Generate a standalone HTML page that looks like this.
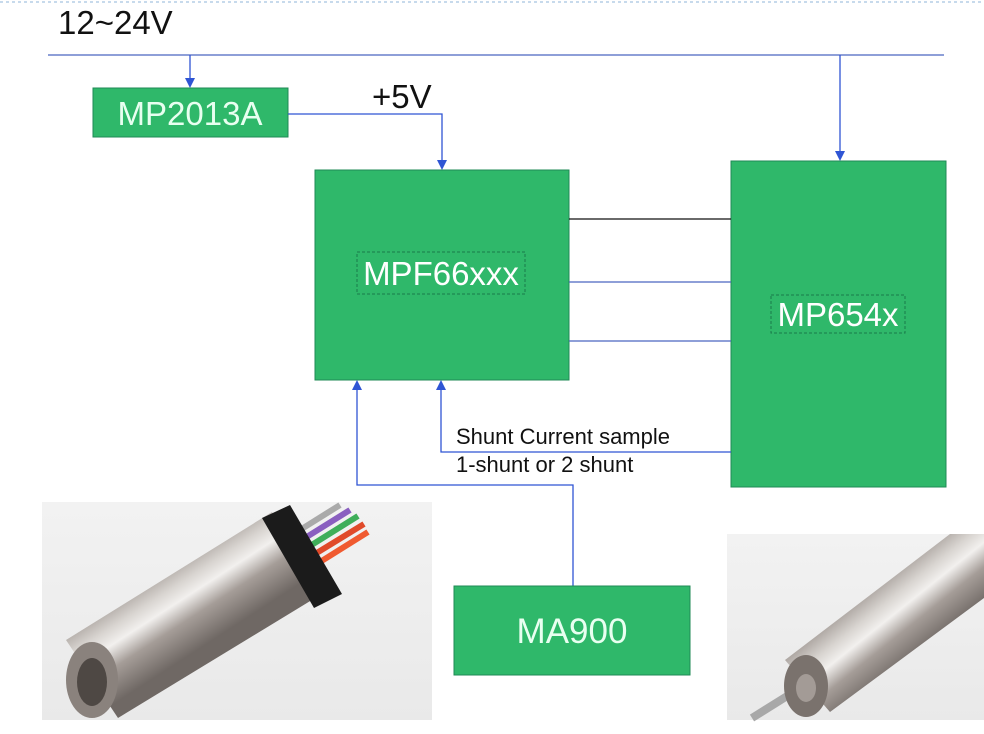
<!DOCTYPE html>
<html><head><style>
html,body{margin:0;padding:0;background:#fff;width:984px;height:734px;overflow:hidden;}
svg{display:block;font-family:"Liberation Sans",sans-serif;}
</style></head><body>
<svg width="984" height="734" viewBox="0 0 984 734" xmlns="http://www.w3.org/2000/svg">
<defs>
<linearGradient id="cyl" gradientUnits="userSpaceOnUse" x1="150" y1="560" x2="205" y2="645">
<stop offset="0" stop-color="#8a817c"/><stop offset="0.35" stop-color="#d8d4d0"/><stop offset="0.5" stop-color="#f2f0ee"/><stop offset="0.7" stop-color="#a59d98"/><stop offset="1" stop-color="#6f6864"/></linearGradient>
<linearGradient id="cyl2" gradientUnits="userSpaceOnUse" x1="860" y1="580" x2="920" y2="655">
<stop offset="0" stop-color="#8a817c"/><stop offset="0.35" stop-color="#d8d4d0"/><stop offset="0.5" stop-color="#f2f0ee"/><stop offset="0.7" stop-color="#a59d98"/><stop offset="1" stop-color="#6f6864"/></linearGradient>
<linearGradient id="bg" x1="0" y1="0" x2="0" y2="1"><stop offset="0" stop-color="#f2f2f2"/><stop offset="1" stop-color="#e9e9e9"/></linearGradient>
</defs>
<line x1="0" y1="2" x2="984" y2="2" stroke="#8fb4d8" stroke-dasharray="3,3" stroke-width="1"/>
<text x="58" y="34" font-size="33" fill="#111">12~24V</text>
<line x1="48" y1="55" x2="944" y2="55" stroke="#4a66c0" stroke-width="1.3"/>
<line x1="190" y1="55" x2="190" y2="80" stroke="#2f55d4" stroke-width="1.3"/>
<path d="M185,78 L195,78 L190,88 z" fill="#2f55d4"/>
<line x1="840" y1="55" x2="840" y2="153" stroke="#2f55d4" stroke-width="1.3"/>
<path d="M835,151 L845,151 L840,161 z" fill="#2f55d4"/>
<rect x="93" y="88" width="195" height="49" fill="#2fb86a" stroke="#1f8a55"/>
<text x="190" y="125" font-size="33" fill="#e8fff0" text-anchor="middle">MP2013A</text>
<polyline points="288,114 442,114 442,162" fill="none" stroke="#2f55d4" stroke-width="1.3"/>
<path d="M437,160 L447,160 L442,170 z" fill="#2f55d4"/>
<text x="372" y="108" font-size="33" fill="#111">+5V</text>
<rect x="315" y="170" width="254" height="210" fill="#2fb86a" stroke="#1f8a55"/>
<rect x="357" y="252" width="168" height="42" fill="none" stroke="#1a7a4a" stroke-dasharray="3,2"/>
<text x="441" y="285" font-size="33" fill="#fff" text-anchor="middle">MPF66xxx</text>
<rect x="731" y="161" width="215" height="326" fill="#2fb86a" stroke="#1f8a55"/>
<rect x="771" y="295" width="134" height="38" fill="none" stroke="#1a7a4a" stroke-dasharray="3,2"/>
<text x="838" y="326" font-size="33" fill="#fff" text-anchor="middle">MP654x</text>
<line x1="569" y1="219" x2="731" y2="219" stroke="#111" stroke-width="1.3"/>
<line x1="569" y1="282" x2="731" y2="282" stroke="#4a66c0" stroke-width="1.3"/>
<line x1="569" y1="341" x2="731" y2="341" stroke="#4a66c0" stroke-width="1.3"/>
<polyline points="731,452 441,452 441,388" fill="none" stroke="#2f55d4" stroke-width="1.3"/>
<path d="M436,390 L446,390 L441,380 z" fill="#2f55d4"/>
<text x="456" y="444" font-size="22" fill="#111">Shunt Current sample</text>
<text x="456" y="472" font-size="22" fill="#111">1-shunt or 2 shunt</text>
<polyline points="573,586 573,485 357,485 357,388" fill="none" stroke="#2f55d4" stroke-width="1.3"/>
<path d="M352,390 L362,390 L357,380 z" fill="#2f55d4"/>
<rect x="454" y="586" width="236" height="89" fill="#2fb86a" stroke="#1f8a55"/>
<text x="572" y="643" font-size="35" fill="#e8fff0" text-anchor="middle">MA900</text>

<rect x="42" y="502" width="390" height="218" fill="url(#bg)"/>
<g stroke-width="6">
<line x1="300" y1="530" x2="340" y2="505" stroke="#aaa"/>
<line x1="305" y1="538" x2="350" y2="510" stroke="#8a5fc0"/>
<line x1="310" y1="546" x2="358" y2="516" stroke="#3fae5a"/>
<line x1="315" y1="554" x2="364" y2="524" stroke="#e04a2a"/>
<line x1="320" y1="562" x2="368" y2="532" stroke="#f05a30"/>
</g>
<polygon points="66,640 272,512 325,592 118,718" fill="url(#cyl)"/>
<polygon points="262,518 290,505 342,594 314,608" fill="#1b1b1b"/>
<ellipse cx="92" cy="680" rx="26" ry="38" fill="#8a827d"/>
<ellipse cx="92" cy="682" rx="15" ry="24" fill="#4e4844"/>

<rect x="727" y="534" width="257" height="186" fill="url(#bg)"/>
<line x1="800" y1="688" x2="752" y2="718" stroke="#a8a8a8" stroke-width="8"/>
<polygon points="785,660 950,534 984,534 984,598 830,712" fill="url(#cyl2)"/>
<ellipse cx="806" cy="686" rx="22" ry="31" fill="#7a726d"/>
<ellipse cx="806" cy="688" rx="10" ry="14" fill="#a39b96"/>
</svg>
</body></html>
